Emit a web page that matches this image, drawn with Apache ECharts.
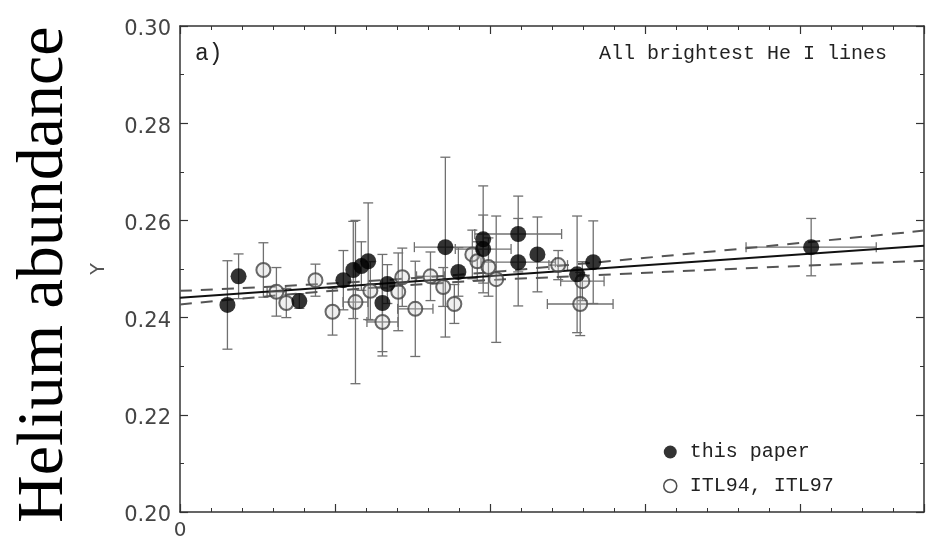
<!DOCTYPE html>
<html><head><meta charset="utf-8">
<script src="https://cdn.jsdelivr.net/npm/echarts@6/dist/echarts.min.js"></script>
<style>html,body{margin:0;padding:0;background:#fff}#c{width:926px;height:541px}</style>
</head><body><div id="c"></div>
<script>
// x (arbitrary units, only "0" labelled), Y, x error, Y error
const paperX    = [15.3, 18.9, 38.5, 52.7, 55.9, 58.5, 60.7, 66.9, 65.3, 85.6, 89.8, 97.8, 97.8, 109.1, 109.1, 115.3, 128.1, 133.3, 203.6];
const paperY    = [0.2426,0.2485,0.2434,0.2477,0.2498,0.2506,0.2516,0.2469,0.2430,0.2545,0.2494,0.2561,0.2541,0.2572,0.2514,0.2530,0.2489,0.2514,0.2545];
const paperXErr = [0,0,0,0,0,0,0,0,0,10,0,0,9,14,12,0,0,0,21];
const paperYErr = [0.0091,0.0046,0.0015,0.0061,0.0100,0.0050,0.0120,0.0040,0.0100,0.0185,0.0050,0.0110,0.0070,0.0078,0.0090,0.0077,0.0120,0.0085,0.0059];

const itlX    = [26.9, 31.1, 34.3, 43.7, 49.2, 56.6, 61.4, 65.3, 70.4, 71.7, 75.9, 80.8, 84.9, 88.5, 94.3, 95.9, 99.5, 102.0, 122.0, 129.8, 129.1];
const itlY    = [0.2498,0.2453,0.2430,0.2477,0.2412,0.2432,0.2455,0.2391,0.2453,0.2483,0.2418,0.2485,0.2463,0.2428,0.2530,0.2516,0.2504,0.2479,0.2508,0.2475,0.2428];
const itlXErr = [0,3,0,0,0,4,0,5,0,0,5.7,4.5,0,0,0,0,0,0,3,7,10.6];
const itlYErr = [0.0056,0.0050,0.0030,0.0033,0.0048,0.0168,0.0060,0.0070,0.0080,0.0060,0.0098,0.0050,0.0040,0.0040,0.0050,0.0040,0.0060,0.0130,0.0030,0.0040,0.0065];

const fitX   = [0, 240];
const fitY   = [0.2441, 0.2548];
const bandX  = [0, 70, 140, 240];
const upperY = [0.2455, 0.2479, 0.2517, 0.2579];
const lowerY = [0.2427, 0.2465, 0.2489, 0.2517];

const yTicks = [0.20, 0.22, 0.24, 0.26, 0.28, 0.30];

const zip = (...a) => a[0].map((_, i) => a.map(v => v[i]));

const chart = echarts.init(document.getElementById('c'), null, {renderer: 'canvas'});

function errRender(params, api) {
  const x = api.value(0), y = api.value(1), xe = api.value(2), ye = api.value(3);
  const st = {stroke: '#707070', lineWidth: 1.3};
  const ch = [];
  const t = api.coord([x, y + ye]), b = api.coord([x, y - ye]);
  ch.push({type: 'line', shape: {x1: t[0], y1: t[1], x2: b[0], y2: b[1]}, style: st});
  ch.push({type: 'line', shape: {x1: t[0] - 5, y1: t[1], x2: t[0] + 5, y2: t[1]}, style: st});
  ch.push({type: 'line', shape: {x1: b[0] - 5, y1: b[1], x2: b[0] + 5, y2: b[1]}, style: st});
  if (xe > 0) {
    const l = api.coord([x - xe, y]), r = api.coord([x + xe, y]);
    ch.push({type: 'line', shape: {x1: l[0], y1: l[1], x2: r[0], y2: r[1]}, style: st});
    ch.push({type: 'line', shape: {x1: l[0], y1: l[1] - 5, x2: l[0], y2: l[1] + 5}, style: st});
    ch.push({type: 'line', shape: {x1: r[0], y1: r[1] - 5, x2: r[0], y2: r[1] + 5}, style: st});
  }
  return {type: 'group', children: ch};
}

const axisLine = {lineStyle: {color: '#333', width: 1.5}};
const mk = (pos, isX) => ({
  type: 'value', position: pos, min: isX ? 0 : 0.20, max: isX ? 240 : 0.30,
  interval: isX ? 50 : 0.02,
  axisLine: Object.assign({show: true, onZero: false}, axisLine),
  axisTick: {show: true, inside: true, length: 8, lineStyle: {color: '#333', width: 1.2}},
  minorTick: {show: true, splitNumber: isX ? 5 : 2, length: 4, lineStyle: {color: '#333', width: 1}},
  splitLine: {show: false}, minorSplitLine: {show: false},
  axisLabel: {show: false}
});

const xMain = mk('bottom', true);
xMain.axisLabel = {show: true, margin: 9, fontFamily: 'DejaVu Sans', fontSize: 20, color: '#444',
  formatter: v => v === 0 ? '0' : '', showMaxLabel: false};
const yMain = mk('left', false);
yMain.axisLabel = {show: true, margin: 9, fontFamily: 'DejaVu Sans', fontSize: 21, color: '#444',
  formatter: v => { const m = yTicks.find(t => Math.abs(t - v) < 1e-9); return m === undefined ? '' : '{d|' + m.toFixed(2) + '}'; },
  rich: {d: {fontFamily: 'DejaVu Sans', fontSize: 21, color: '#444', padding: [8, 0, 0, 0]}}};
yMain.name = 'Y'; yMain.nameLocation = 'middle'; yMain.nameGap = 71; yMain.nameRotate = 90;
yMain.nameTextStyle = {fontFamily: 'DejaVu Sans', fontSize: 19, color: '#555'};

chart.setOption({
  animation: false,
  backgroundColor: '#fff',
  grid: {left: 180, right: 2, top: 26, bottom: 27, containLabel: false},
  xAxis: [xMain, mk('top', true)],
  yAxis: [yMain, mk('right', false)],
  legend: {
    orient: 'vertical', left: 658, top: 437, itemWidth: 13, itemHeight: 13, itemGap: 14,
    data: [
      {name: 'this paper', icon: 'circle', itemStyle: {color: '#000', borderWidth: 0}},
      {name: 'ITL94, ITL97', icon: 'circle', itemStyle: {color: '#fff', borderColor: '#222', borderWidth: 1.5}}
    ],
    textStyle: {fontFamily: 'Liberation Mono', fontSize: 20, color: '#222', padding: [0, 0, 0, 8], lineHeight: 20}
  },
  graphic: [
    {type: 'text', x: 12, y: 523, rotation: Math.PI / 2,
     style: {text: 'Helium abundance', font: '66px "Liberation Serif"', fill: '#000'}},
    {type: 'text', x: 195, y: 42, style: {text: 'a)', font: '23px "Liberation Mono"', fill: '#222'}},
    {type: 'text', x: 599, y: 44, style: {text: 'All brightest He I lines', font: '20px "Liberation Mono"', fill: '#222'}}
  ],
  series: [
    {type: 'custom', name: 'errP', renderItem: errRender, encode: {x: 0, y: 1},
     data: zip(paperX, paperY, paperXErr, paperYErr), z: 1, silent: true},
    {type: 'custom', name: 'errI', renderItem: errRender, encode: {x: 0, y: 1},
     data: zip(itlX, itlY, itlXErr, itlYErr), z: 1, silent: true},
    {type: 'line', name: 'fit', data: zip(fitX, fitY), symbol: 'none',
     lineStyle: {color: '#111', width: 2}, z: 2},
    {type: 'line', name: 'upper', data: zip(bandX, upperY), symbol: 'none', smooth: true,
     lineStyle: {color: '#555', width: 2, type: [12, 9]}, z: 2},
    {type: 'line', name: 'lower', data: zip(bandX, lowerY), symbol: 'none', smooth: true,
     lineStyle: {color: '#555', width: 2, type: [12, 9]}, z: 2},
    {type: 'scatter', name: 'ITL94, ITL97', data: zip(itlX, itlY), symbol: 'circle', symbolSize: 14,
     itemStyle: {color: 'rgba(200,200,200,0.35)', borderColor: '#444', borderWidth: 2}, z: 3},
    {type: 'scatter', name: 'this paper', data: zip(paperX, paperY), symbol: 'circle', symbolSize: 16,
     itemStyle: {color: '#000'}, z: 4}
  ]
});
</script>
</body></html>
